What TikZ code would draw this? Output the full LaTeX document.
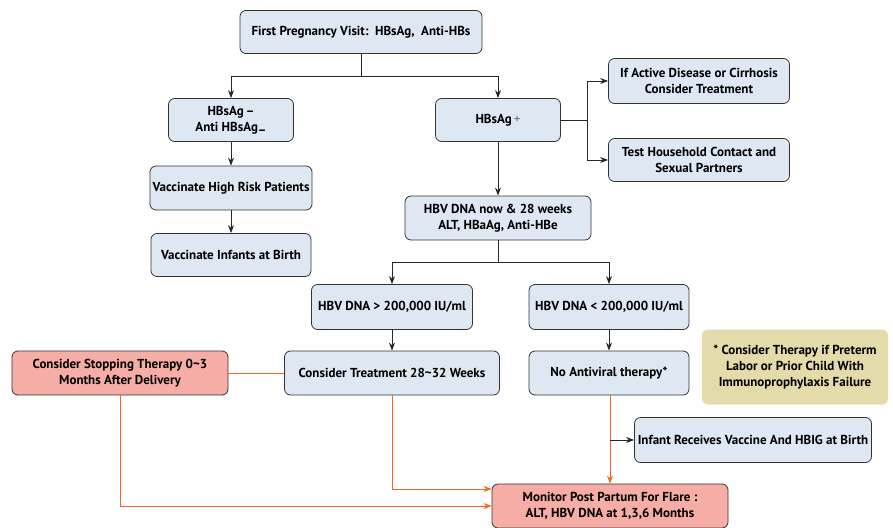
\documentclass[tikz,border=0pt]{standalone}
\usepackage{fontspec}
\setmainfont{PT Sans}
\usetikzlibrary{arrows.meta,positioning}
\definecolor{boxblue}{RGB}{221,232,242}
\definecolor{boxred}{RGB}{246,173,166}
\definecolor{notetan}{RGB}{227,219,170}
\definecolor{flowor}{RGB}{242,101,34}
\tikzset{
  box/.style={draw=black!80,line width=0.8pt,rounded corners=6pt,align=center,
              fill=boxblue,font=\fontsize{13}{16}\selectfont\bfseries,
              minimum height=43pt,inner sep=2pt},
  rbox/.style={box,fill=boxred},
  nbox/.style={box,draw=none,fill=notetan},
  arr/.style={-{Stealth[length=8pt,width=6pt]},line width=0.9pt,draw=black!85},
  oarr/.style={arr,draw=flowor},
  oline/.style={line width=0.9pt,draw=flowor},
  line/.style={line width=0.9pt,draw=black!85},
}
\begin{document}
\begin{tikzpicture}[x=1pt,y=-1pt]
\useasboundingbox (0,0) rectangle (893,527);
% first visit and the two results
\node[box,minimum width=242pt] (visit) at (361,32) {First Pregnancy Visit:\ \ HBsAg,\ \ Anti-HBs};
\node[box,minimum width=125pt] (neg) at (231,120) {HBsAg\,\textendash\\Anti HBsAg\raisebox{-3pt}{\textendash}};
\node[box,minimum width=125pt] (pos) at (498,120) {HBsAg\,{\mdseries\color{black!60}+}};
\node[box,minimum width=181pt,minimum height=45pt] (active) at (699,81) {If Active Disease or Cirrhosis\\Consider Treatment};
\node[box,minimum width=181pt] (house) at (699,160) {Test Household Contact and\\Sexual Partners};
% negative branch
\node[box,minimum width=162pt,minimum height=44pt] (risk) at (231,188) {Vaccinate High Risk Patients};
\node[box,minimum width=160pt] (infants) at (231,255) {Vaccinate Infants at Birth};
% positive branch
\node[box,minimum width=186pt,minimum height=44pt] (dnanow) at (498,218) {HBV DNA now \& 28 weeks\\ALT, HBaAg, Anti-HBe};
\node[box,minimum width=161pt,minimum height=45pt] (high) at (392,307) {HBV DNA > 200,000 IU/ml};
\node[box,minimum width=160pt,minimum height=45pt] (low) at (609,307) {HBV DNA < 200,000 IU/ml};
\node[rbox,minimum width=216pt,minimum height=44pt] (stop) at (120,373) {Consider Stopping Therapy 0\textasciitilde3\\Months After Delivery};
\node[box,minimum width=215pt,minimum height=44pt] (treat) at (392,373) {Consider Treatment 28\textasciitilde32 Weeks};
\node[box,minimum width=160pt,minimum height=44pt] (noanti) at (609,373) {No Antiviral therapy*};
\node[nbox,minimum width=186pt,minimum height=75pt] (note) at (795,367) {* Consider Therapy if Preterm\\Labor or Prior Child With\\Immunoprophylaxis Failure};
\node[box,minimum width=237pt,minimum height=45pt] (infant) at (753,440) {Infant Receives Vaccine And HBIG at Birth};
\node[rbox,minimum width=236pt,minimum height=44pt] (monitor) at (610,506) {Monitor Post Partum For Flare :\\ALT, HBV DNA at 1,3,6 Months};
% black connectors
\coordinate (split1) at (361,76);
\draw[line] (visit.south) -- (split1);
\draw[arr] (split1) -| (neg.north);
\draw[arr] (split1) -| (pos.north);
\coordinate (split2) at (587,120);
\draw[line] (pos.east) -- (split2);
\draw[arr] (split2) |- (active.west);
\draw[arr] (split2) |- (house.west);
\draw[arr] (neg) -- (risk);
\draw[arr] (risk) -- (infants);
\draw[arr] (pos) -- (dnanow);
\coordinate (split3) at (498,262);
\draw[line] (dnanow.south) -- (split3);
\draw[arr] (split3) -| (high.north);
\draw[arr] (split3) -| (low.north);
\draw[arr] (high) -- (treat);
\draw[arr] (low) -- (noanti);
% orange connectors
\draw[oline] (stop.east) -- (treat.west);
\draw[oarr] (treat.south) |- ([yshift=17pt]monitor.west);
\draw[oarr] (stop.south) |- (monitor.west);
\coordinate (split4) at (610,440);
\draw[oarr] (noanti.south -| monitor.north) -- (monitor.north);
\draw[arr] (split4) -- (infant.west);
\end{tikzpicture}
\end{document}
